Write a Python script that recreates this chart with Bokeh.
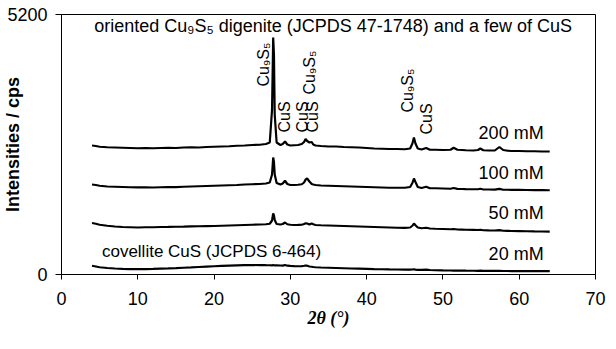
import math
from bokeh.plotting import figure
from bokeh.models import FixedTicker, Label
from bokeh.embed import file_html
from bokeh.resources import INLINE

# ---- data ----
two_theta = [4.0, 4.5, 5, 6, 7, 8, 9, 10, 11, 12, 13, 14, 15, 16, 17, 18, 19, 20, 21, 22, 23, 24, 25, 26,
             26.8, 27.3, 27.6, 27.75, 27.85, 27.95, 28.2, 28.7,
             29.0, 29.3, 29.6, 30.0, 30.5, 31.0, 31.5, 31.8,
             32.0, 32.2, 32.5, 32.8, 33.0, 33.3,
             34, 35, 36, 37, 38, 39, 40, 41, 42, 43, 44, 45,
             45.7, 46.0, 46.2, 46.4, 46.7, 47.2, 47.8, 48.3,
             49, 50, 51, 51.4, 51.9, 52.5, 53,
             54, 54.6, 54.9, 55.3, 56, 56.8, 57.4, 57.9, 58.5, 59,
             60, 61, 62, 63, 64]

mM200 = [2580, 2570, 2555, 2545, 2540, 2535, 2530, 2525, 2530, 2525, 2530, 2535, 2530, 2540, 2545, 2540, 2550, 2555, 2560, 2565, 2575, 2580, 2590, 2595,
         2610, 2640, 3300, 4740, 4400, 3200, 2640, 2590,
         2610, 2660, 2600, 2580, 2585, 2590, 2610, 2650,
         2710, 2670, 2640, 2650, 2600, 2580,
         2570, 2560, 2560, 2550, 2545, 2540, 2530, 2520, 2515, 2510, 2510, 2505,
         2520, 2620, 2740, 2620, 2520, 2500, 2530, 2495,
         2495, 2490, 2495, 2535, 2495, 2490, 2485,
         2480, 2490, 2520, 2485, 2480, 2480, 2550, 2490, 2475, 2470,
         2470, 2465, 2465, 2460, 2460]

mM100 = [1800, 1790, 1775, 1760, 1755, 1750, 1745, 1742, 1745, 1740, 1745, 1750, 1748, 1755, 1760, 1765, 1770, 1775, 1780, 1785, 1790, 1800, 1805, 1810,
         1820, 1840, 2000, 2340, 2250, 2000, 1830, 1800,
         1820, 1875, 1810, 1790, 1790, 1795, 1805, 1840,
         1900, 1920, 1860, 1810, 1800, 1790,
         1780, 1775, 1770, 1765, 1760, 1755, 1750, 1745, 1740, 1735, 1735, 1735,
         1750, 1830, 1920, 1850, 1750, 1730, 1755, 1725,
         1725, 1720, 1715, 1730, 1712, 1710, 1708,
         1705, 1705, 1715, 1700, 1700, 1698, 1712, 1695, 1695, 1692,
         1692, 1690, 1688, 1688, 1685]

mM50 = [1030, 1015, 995, 975, 960, 950, 945, 940, 945, 945, 950, 952, 955, 958, 962, 965, 968, 970, 975, 980, 985, 990, 995, 1000,
        1005, 1015, 1080, 1220, 1180, 1090, 1010, 1000,
        1010, 1040, 1005, 995, 990, 992, 995, 1010,
        1025, 1020, 1000, 1020, 1005, 990,
        985, 980, 975, 970, 965, 960, 955, 950, 945, 940, 935, 932,
        940, 975, 1020, 985, 940, 925, 935, 920,
        915, 910, 905, 910, 900, 898, 895,
        892, 890, 895, 885, 882, 880, 888, 875, 872, 870,
        868, 865, 862, 860, 858]

mM20 = [175, 160, 145, 130, 120, 112, 108, 106, 108, 112, 118, 122, 128, 135, 142, 150, 158, 165, 172, 178, 184, 188, 190, 188,
        186, 185, 184, 186, 185, 183, 182, 180,
        178, 190, 176, 172, 168, 165, 168, 175,
        180, 176, 160, 155, 150, 145,
        140, 135, 130, 125, 120, 116, 112, 108, 105, 102, 100, 98,
        96, 100, 105, 98, 94, 92, 98, 90,
        85, 82, 80, 78, 80, 77, 76,
        75, 74, 76, 73, 72, 72, 74, 70, 70, 69,
        68, 68, 67, 66, 66]

x_ticks = [0, 10, 20, 30, 40, 50, 60, 70]
y_ticks = [0, 5200]

series_names = ["200 mM", "100 mM", "50 mM", "20 mM"]
series_label_y = [2840, 2040, 1240, 420]

# rotated peak labels: (text, x, bottom y)
peak_texts = ["Cu\u2089S\u2085", "CuS", "CuS", "CuS", "Cu\u2089S\u2085", "Cu\u2089S\u2085", "CuS"]
peak_x = [26.5, 29.2, 31.6, 32.9, 32.5, 45.3, 47.9]
peak_y = [3760, 2840, 2840, 2840, 3600, 3240, 2800]

SANS = "Liberation Sans"
SERIF = "Liberation Serif"

p = figure(width=606, height=333, x_range=(0, 70), y_range=(0, 5200),
           output_backend="svg", toolbar_location=None,
           min_border_left=56, min_border_right=11, min_border_top=14, min_border_bottom=59)
p.background_fill_color = "white"
p.border_fill_color = "white"
p.outline_line_color = "black"
p.outline_line_width = 1
p.xgrid.visible = False
p.ygrid.visible = False

p.xaxis.ticker = FixedTicker(ticks=x_ticks)
p.yaxis.ticker = FixedTicker(ticks=y_ticks)
for ax in (p.xaxis, p.yaxis):
    ax.axis_line_color = "black"
    ax.axis_line_width = 1
    ax.major_tick_line_color = "black"
    ax.minor_tick_line_color = None
    ax.major_tick_in = 0
    ax.major_label_text_font = SANS
    ax.major_label_text_font_size = "18px"
    ax.major_label_text_color = "black"
p.xaxis.major_tick_out = 5
p.xaxis.major_label_standoff = 12
p.yaxis.major_tick_out = 6
p.yaxis.major_label_standoff = 8

p.yaxis.axis_label = "Intensities / cps"
p.yaxis.axis_label_text_font = SANS
p.yaxis.axis_label_text_font_size = "18px"
p.yaxis.axis_label_text_font_style = "bold"
p.yaxis.axis_label_text_color = "black"
p.yaxis.axis_label_standoff = -19

p.xaxis.axis_label = "2\u03b8 (\u00b0)"
p.xaxis.axis_label_text_font = SERIF
p.xaxis.axis_label_text_font_size = "18px"
p.xaxis.axis_label_text_font_style = "bold italic"
p.xaxis.axis_label_text_color = "black"
p.xaxis.axis_label_standoff = 0

for vals in (mM200, mM100, mM50, mM20):
    p.line(two_theta, vals, line_color="black", line_width=2.2)

for name, yy in zip(series_names, series_label_y):
    p.add_layout(Label(x=63.2, y=yy, text=name, text_align="right", text_baseline="middle",
                       text_font=SANS, text_font_size="18px", text_color="black"))

for t, xx, yy in zip(peak_texts, peak_x, peak_y):
    p.add_layout(Label(x=xx, y=yy, text=t, angle=math.pi / 2, text_align="left", text_baseline="middle",
                       text_font=SANS, text_font_size="16px", text_color="black"))

p.add_layout(Label(x=4.3, y=4980, text="oriented Cu\u2089S\u2085 digenite (JCPDS 47-1748) and a few of CuS",
                   text_align="left", text_baseline="middle", text_font=SANS, text_font_size="18px",
                   text_color="black"))
p.add_layout(Label(x=5.3, y=470, text="covellite CuS (JCPDS 6-464)",
                   text_align="left", text_baseline="middle", text_font=SANS, text_font_size="17px",
                   text_color="black"))

open("out.html", "w").write(file_html(p, INLINE))
